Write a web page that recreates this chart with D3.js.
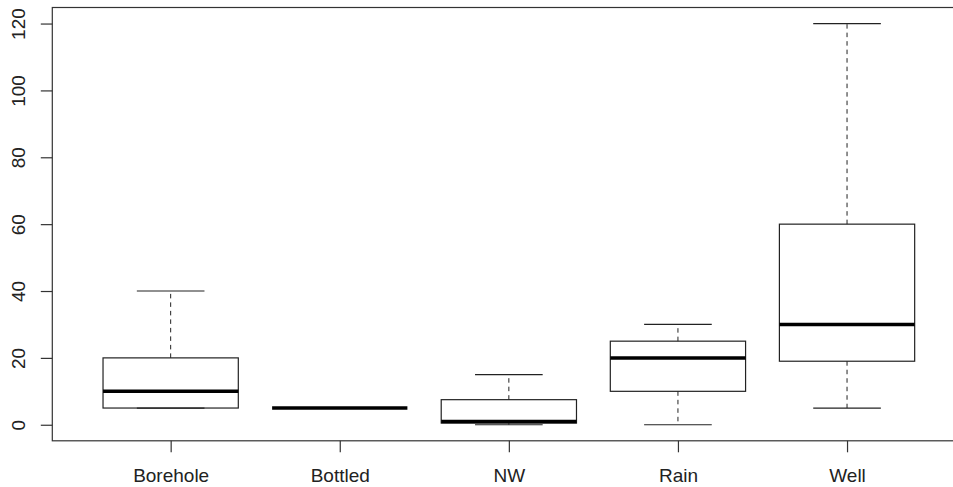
<!DOCTYPE html>
<html>
<head>
<meta charset="utf-8">
<script src="https://cdn.jsdelivr.net/npm/d3@7"></script>
<style>
  body { margin: 0; background: #fff; }
  text { font-family: "Liberation Sans", Arial, sans-serif; fill: #222; }
</style>
</head>
<body>
<svg id="chart"></svg>
<script>
// five-number summaries
const categories   = ['Borehole', 'Bottled', 'NW', 'Rain', 'Well'];
const lowerWhisker = [5, 5, 0, 0, 5];
const lowerHinge   = [5, 5, 0.5, 10, 19];
const medians      = [10, 5, 1, 20, 30];
const upperHinge   = [20, 5, 7.5, 25, 60];
const upperWhisker = [40, 5, 15, 30, 120];
const yTicks = [0, 20, 40, 60, 80, 100, 120];

const width = 953, height = 487;

const data = categories.map((c, i) => ({
  name: c, pos: i + 1,
  lo: lowerWhisker[i], q1: lowerHinge[i], med: medians[i],
  q3: upperHinge[i], hi: upperWhisker[i]
}));

const svg = d3.select('#chart')
    .attr('width', width)
    .attr('height', height);

// R style: xlim 0.5..5.5 widened by 4%, ylim widened by 4%
const xScale = d3.scaleLinear()
    .domain([0.3, 5.7])
    .range([52.3, 965.4]);

const yScale = d3.scaleLinear()
    .domain([-4.8, 124.8])
    .range([440.8, 7.5]);

const boxHalf = 0.4, capHalf = 0.2;
const lineCol = '#222';

const g = svg.append('g');

// whiskers (dashed)
g.selectAll('.whisker-up')
    .data(data)
  .join('line')
    .attr('x1', d => xScale(d.pos)).attr('x2', d => xScale(d.pos))
    .attr('y1', d => yScale(d.q3)).attr('y2', d => yScale(d.hi))
    .attr('stroke', lineCol).attr('stroke-width', 1)
    .attr('stroke-dasharray', '4.5,4');

g.selectAll('.whisker-down')
    .data(data)
  .join('line')
    .attr('x1', d => xScale(d.pos)).attr('x2', d => xScale(d.pos))
    .attr('y1', d => yScale(d.q1)).attr('y2', d => yScale(d.lo))
    .attr('stroke', lineCol).attr('stroke-width', 1)
    .attr('stroke-dasharray', '4.5,4');

// staples
['hi', 'lo'].forEach(k => {
  g.selectAll('.cap-' + k)
      .data(data)
    .join('line')
      .attr('x1', d => xScale(d.pos - capHalf)).attr('x2', d => xScale(d.pos + capHalf))
      .attr('y1', d => yScale(d[k])).attr('y2', d => yScale(d[k]))
      .attr('stroke', lineCol).attr('stroke-width', 1.2);
});

// boxes
g.selectAll('.box')
    .data(data)
  .join('rect')
    .attr('x', d => xScale(d.pos - boxHalf))
    .attr('width', d => xScale(d.pos + boxHalf) - xScale(d.pos - boxHalf))
    .attr('y', d => yScale(d.q3))
    .attr('height', d => yScale(d.q1) - yScale(d.q3))
    .attr('fill', 'none')
    .attr('stroke', lineCol).attr('stroke-width', 1.2);

// medians
g.selectAll('.median')
    .data(data)
  .join('line')
    .attr('x1', d => xScale(d.pos - boxHalf)).attr('x2', d => xScale(d.pos + boxHalf))
    .attr('y1', d => yScale(d.med)).attr('y2', d => yScale(d.med))
    .attr('stroke', '#000').attr('stroke-width', 3.5);

// frame
svg.append('rect')
    .attr('x', xScale.range()[0]).attr('y', yScale.range()[1])
    .attr('width', xScale.range()[1] - xScale.range()[0])
    .attr('height', yScale.range()[0] - yScale.range()[1])
    .attr('fill', 'none')
    .attr('stroke', '#333').attr('stroke-width', 1.2);

// y axis
const yAxisG = svg.append('g')
    .attr('transform', `translate(${xScale.range()[0]},0)`)
    .call(d3.axisLeft(yScale).tickValues(yTicks).tickSize(11.5).tickSizeOuter(0).tickFormat(d3.format('d')));
yAxisG.select('.domain').remove();
yAxisG.selectAll('.tick line').attr('stroke', '#333').attr('stroke-width', 1.2);
yAxisG.selectAll('.tick text')
    .attr('x', 0).attr('y', 0).attr('dy', 0)
    .attr('transform', 'translate(-27,0) rotate(-90)')
    .style('text-anchor', 'middle')
    .style('font-size', '19px')
    .style('font-family', '"Liberation Sans", Arial, sans-serif')
    .attr('fill', '#222');

// x axis
const xAxisG = svg.append('g')
    .attr('transform', `translate(0,${yScale.range()[0]})`)
    .call(d3.axisBottom(xScale).tickValues(data.map(d => d.pos)).tickSize(11.5).tickSizeOuter(0)
      .tickFormat((d, i) => categories[i]));
xAxisG.select('.domain').remove();
xAxisG.selectAll('.tick line').attr('stroke', '#333').attr('stroke-width', 1.2);
xAxisG.selectAll('.tick text')
    .attr('y', 41.5).attr('dy', 0)
    .style('font-size', '19px')
    .style('font-family', '"Liberation Sans", Arial, sans-serif')
    .attr('fill', '#222');
</script>
</body>
</html>
